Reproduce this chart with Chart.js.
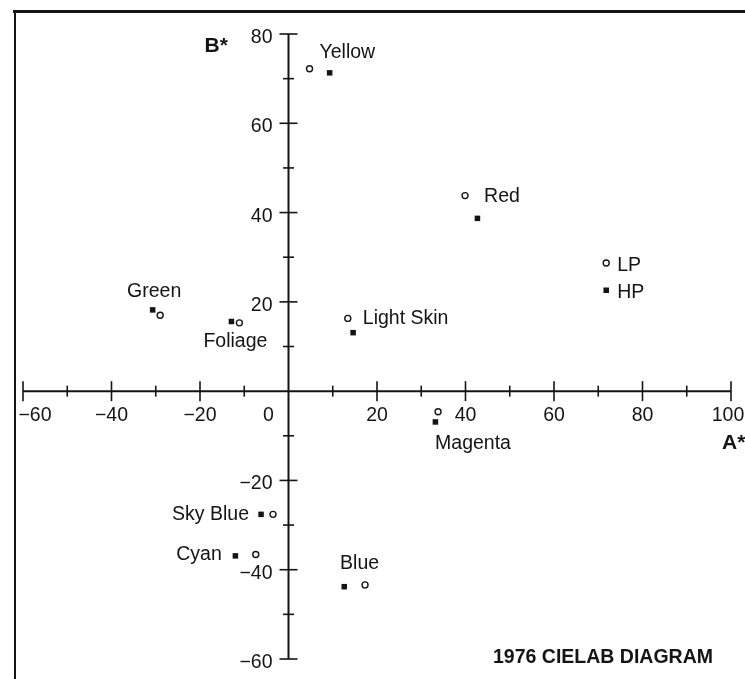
<!DOCTYPE html>
<html lang="en">
<head>
<meta charset="utf-8">
<title>1976 CIELAB DIAGRAM</title>
<script src="https://cdn.jsdelivr.net/npm/chart.js@4.4.1/dist/chart.umd.min.js"></script>
<style>
  html, body { margin: 0; padding: 0; background: #fff; }
  #wrap { width: 745px; height: 679px; }
</style>
</head>
<body>
<div id="wrap"><canvas id="lab" width="745" height="679"></canvas></div>
<script>
// 色票 (a*, b*)
const patches = ["Yellow", "Red", "Green", "Foliage", "Light Skin", "Magenta", "Sky Blue", "Cyan", "Blue"];
const lpA = [4.75, 39.9, -29.0, -11.1, 13.4, 33.8, -3.5, -7.4, 17.3];
const lpB = [72.2, 43.8, 17.0, 15.3, 16.3, -4.6, -27.6, -36.6, -43.4];
const hpA = [9.3, 42.7, -30.7, -12.9, 14.6, 33.2, -6.2, -12.0, 12.6];
const hpB = [71.3, 38.7, 18.2, 15.6, 13.1, -6.9, -27.6, -36.9, -43.8];

// 凡例マーク
const keyNames = ["LP", "HP"];
const keyA = [71.8, 71.8];
const keyB = [28.7, 22.6];

// 目盛り
const xTicks = [-60, -40, -20, 0, 20, 40, 60, 80, 100];
const yTicks = [80, 60, 40, 20, -20, -40, -60];
const minorStep = 10;

const ink = "#141414";
const face = '"Liberation Sans", Arial, Helvetica, sans-serif';

// ラベル位置 (LP の点からのずれ)
const tagPos = {
  "Yellow":     { dx: 10,  dy: -11,  align: "left" },
  "Red":        { dx: 19,  dy: 6.5,  align: "left" },
  "Green":      { dx: -6,  dy: -18.5, align: "center" },
  "Foliage":    { dx: -4,  dy: 24.5, align: "center" },
  "Light Skin": { dx: 15,  dy: 6,    align: "left" },
  "Magenta":    { dx: -3,  dy: 37.5, align: "left" },
  "Sky Blue":   { dx: -24, dy: 5.5,  align: "right" },
  "Cyan":       { dx: -34, dy: 5,    align: "right" },
  "Blue":       { dx: -25, dy: -15.5, align: "left" }
};
// 目盛りラベルの横ずれ
const xTickShift = { "-60": 12, "0": -20, "100": -3 };

function fmt(v) {
  return v < 0 ? "\u2212" + Math.abs(v) : String(v);
}

function toPoints(a, b) {
  return a.map((v, i) => ({ x: v, y: b[i] }));
}

// 軸・目盛り・文字
const labPlugin = {
  id: "labAxes",
  beforeDraw(chart) {
    const ctx = chart.ctx;
    ctx.save();
    ctx.fillStyle = "#fff";
    ctx.fillRect(0, 0, chart.width, chart.height);
    ctx.strokeStyle = ink;
    ctx.lineWidth = 3;
    ctx.beginPath();
    ctx.moveTo(13, 11.5);
    ctx.lineTo(chart.width, 11.5);
    ctx.stroke();
    ctx.lineWidth = 2;
    ctx.beginPath();
    ctx.moveTo(15, 10);
    ctx.lineTo(15, chart.height);
    ctx.stroke();
    ctx.restore();
  },
  beforeDatasetsDraw(chart) {
    const { ctx, scales: { x, y } } = chart;
    const x0 = x.getPixelForValue(0);
    const y0 = y.getPixelForValue(0);
    ctx.save();
    ctx.strokeStyle = ink;
    ctx.lineWidth = 2;
    ctx.beginPath();
    ctx.moveTo(x.left, y0);
    ctx.lineTo(x.right, y0);
    ctx.moveTo(x0, y.top);
    ctx.lineTo(x0, y.bottom);
    ctx.stroke();

    ctx.lineWidth = 1.6;
    for (let v = x.min; v <= x.max; v += minorStep) {
      if (v === 0) continue;
      const px = x.getPixelForValue(v);
      const len = v % 20 === 0 ? 10 : 5.5;
      ctx.beginPath();
      ctx.moveTo(px, y0 - len);
      ctx.lineTo(px, y0 + len);
      ctx.stroke();
    }
    for (let v = y.min; v <= y.max; v += minorStep) {
      if (v === 0) continue;
      const py = y.getPixelForValue(v);
      const len = v % 20 === 0 ? 9 : 5.5;
      ctx.beginPath();
      ctx.moveTo(x0 - len, py);
      ctx.lineTo(x0 + len, py);
      ctx.stroke();
    }

    ctx.fillStyle = ink;
    ctx.font = "19.5px " + face;
    ctx.textBaseline = "alphabetic";
    ctx.textAlign = "center";
    xTicks.forEach(v => {
      const px = x.getPixelForValue(v) + (xTickShift[v] || 0);
      ctx.fillText(fmt(v), px, y0 + 30);
    });
    ctx.textAlign = "right";
    yTicks.forEach(v => {
      ctx.fillText(fmt(v), x0 - 16, y.getPixelForValue(v) + 9);
    });

    // 軸名とタイトル
    ctx.font = "bold 21px " + face;
    ctx.textAlign = "left";
    ctx.fillText("B*", x0 - 84, y.top + 18);
    ctx.fillText("A*", x.right - 9, y0 + 58);
    ctx.font = "bold 19.5px " + face;
    ctx.fillText("1976 CIELAB DIAGRAM", 493, 663);
    ctx.restore();
  },
  afterDatasetsDraw(chart) {
    const { ctx, scales: { x, y } } = chart;
    ctx.save();
    ctx.fillStyle = ink;
    ctx.font = "19.5px " + face;
    ctx.textBaseline = "alphabetic";
    patches.forEach((name, i) => {
      const p = tagPos[name];
      ctx.textAlign = p.align;
      ctx.fillText(name, x.getPixelForValue(lpA[i]) + p.dx, y.getPixelForValue(lpB[i]) + p.dy);
    });
    ctx.textAlign = "left";
    keyNames.forEach((name, i) => {
      ctx.fillText(name, x.getPixelForValue(keyA[i]) + 11, y.getPixelForValue(keyB[i]) + 8);
    });
    ctx.restore();
  }
};

const circleStyle = {
  pointStyle: "circle",
  pointRadius: 3,
  pointBorderWidth: 1.4,
  pointBackgroundColor: "#fff",
  pointBorderColor: ink
};
const squareStyle = {
  pointStyle: "rect",
  pointRadius: 3.9,
  pointBorderWidth: 0,
  pointBackgroundColor: ink,
  pointBorderColor: ink
};

new Chart(document.getElementById("lab"), {
  type: "scatter",
  data: {
    datasets: [
      Object.assign({ label: "LP", data: toPoints(lpA, lpB) }, circleStyle),
      Object.assign({ label: "HP", data: toPoints(hpA, hpB) }, squareStyle),
      Object.assign({ label: "LP key", data: toPoints(keyA.slice(0, 1), keyB.slice(0, 1)) }, circleStyle),
      Object.assign({ label: "HP key", data: toPoints(keyA.slice(1), keyB.slice(1)) }, squareStyle)
    ]
  },
  options: {
    responsive: false,
    animation: false,
    events: [],
    layout: { padding: { left: 23, right: 14, top: 34, bottom: 20 } },
    scales: {
      x: { type: "linear", min: -60, max: 100, display: false },
      y: { type: "linear", min: -60, max: 80, display: false }
    },
    plugins: {
      legend: { display: false },
      tooltip: { enabled: false }
    }
  },
  plugins: [labPlugin]
});
</script>
</body>
</html>
